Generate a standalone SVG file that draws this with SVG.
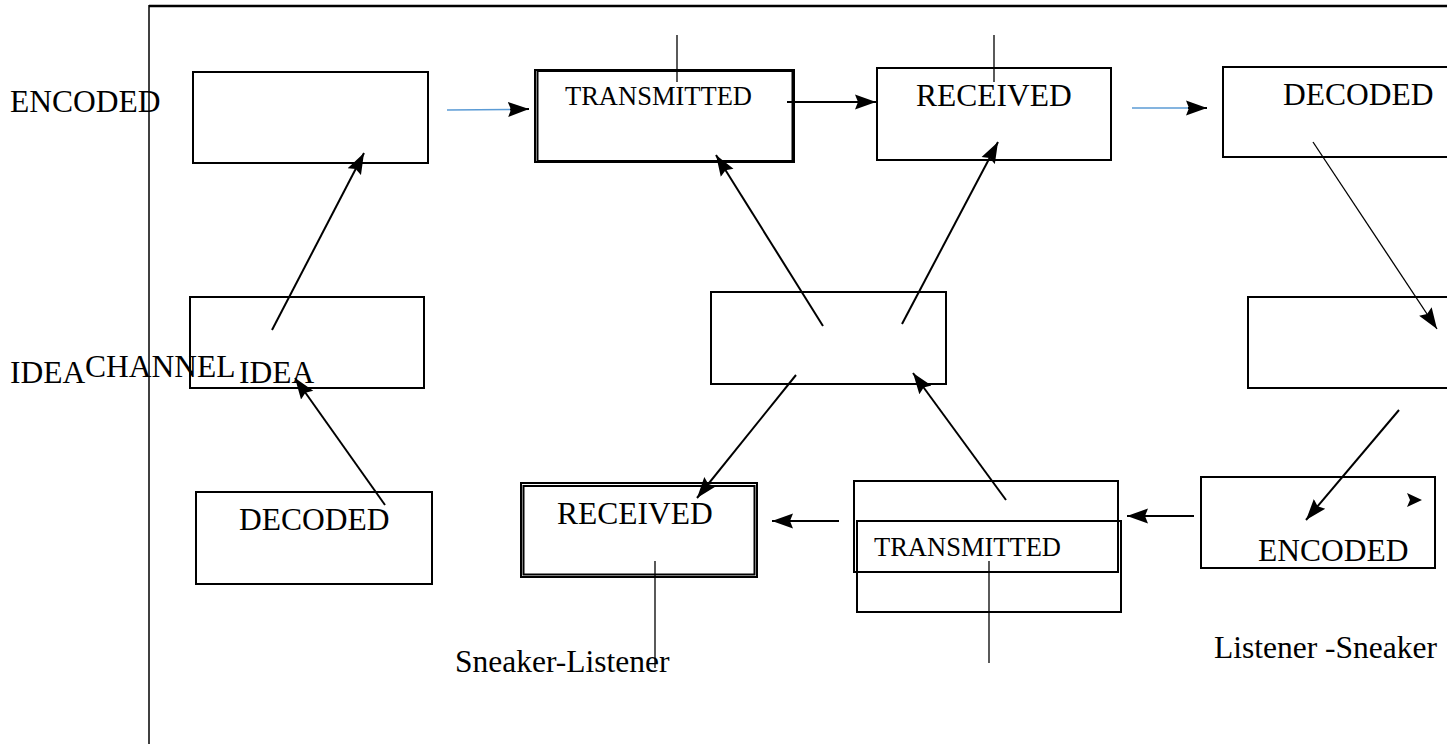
<svg xmlns="http://www.w3.org/2000/svg" width="1452" height="744" viewBox="0 0 1452 744">
  <style>
    .box { fill: none; stroke: #000; stroke-width: 2; }
    .lbl { font-family: "Liberation Serif", "Times New Roman", serif; font-size: 31.5px; fill: #000; }
    .sm { font-size: 26.5px; }
    .wire { stroke: #000; stroke-width: 2; fill: none; }
    .thin { stroke: #000; stroke-width: 1.3; fill: none; }
    .blue { stroke: #5b9bd5; stroke-width: 1.5; fill: none; }
  </style>
  <defs>
    <marker id="ah" markerUnits="userSpaceOnUse" markerWidth="24" markerHeight="18" refX="21" refY="9" orient="auto">
      <path d="M0,1.5 L21,9 L0,16.5 L3,9 z" fill="#000"/>
    </marker>
  </defs>

  <rect width="1452" height="744" fill="#fff"/>

  <!-- outer frame -->
  <g id="frame">
    <line x1="149" y1="6" x2="1447" y2="6" stroke="#000" stroke-width="2.5"/>
    <line x1="149" y1="5" x2="149" y2="744" stroke="#000" stroke-width="1.5"/>
  </g>

  <!-- side labels -->
  <g id="side-labels">
    <text class="lbl" x="10" y="112">ENCODED</text>
    <text class="lbl" x="10" y="383">IDEA</text>
    <text class="lbl" x="85" y="377">CHANNEL</text>
    <text class="lbl" x="239" y="383">IDEA</text>
    <text class="lbl" x="455" y="672">Sneaker-Listener</text>
    <text class="lbl" x="1214" y="658">Listener -Sneaker</text>
  </g>

  <!-- top row -->
  <g id="encoded-top">
    <rect class="box" x="193" y="72" width="235" height="91"/>
  </g>
  <g id="transmitted-top">
    <rect class="box" x="535" y="70" width="259" height="92" stroke-width="2.5"/>
    <rect class="box" x="537.5" y="71" width="255" height="90" stroke-width="1.2"/>
    <text class="lbl sm" x="565" y="105">TRANSMITTED</text>
  </g>
  <g id="received-top">
    <rect class="box" x="877" y="68" width="234" height="92"/>
    <text class="lbl" x="916" y="106">RECEIVED</text>
  </g>
  <g id="decoded-top">
    <path class="box" d="M1447,67 H1223 V157 H1447"/>
    <text class="lbl" x="1283" y="105">DECODED</text>
  </g>

  <!-- middle row -->
  <g id="idea-left">
    <rect class="box" x="190" y="297" width="234" height="91"/>
  </g>
  <g id="channel">
    <rect class="box" x="711" y="292" width="235" height="92"/>
  </g>
  <g id="idea-right">
    <path class="box" d="M1447,297 H1248 V388 H1447"/>
  </g>

  <!-- bottom row -->
  <g id="decoded-bottom">
    <rect class="box" x="196" y="492" width="236" height="92"/>
    <text class="lbl" x="239" y="530">DECODED</text>
  </g>
  <g id="received-bottom">
    <rect class="box" x="521" y="483" width="236" height="94" stroke-width="2.2"/>
    <rect class="box" x="523.5" y="486" width="231" height="88.5" stroke-width="1.2"/>
    <text class="lbl" x="557" y="524">RECEIVED</text>
  </g>
  <g id="transmitted-bottom">
    <rect class="box" x="854" y="481" width="264" height="91"/>
    <rect class="box" x="857" y="521" width="264" height="91"/>
    <text class="lbl sm" x="874" y="556">TRANSMITTED</text>
  </g>
  <g id="encoded-bottom">
    <rect class="box" x="1201" y="477" width="234" height="91"/>
    <text class="lbl" x="1258" y="561">ENCODED</text>
  </g>

  <!-- connectors -->
  <g id="connectors">
    <!-- horizontal flow, top -->
    <line class="blue" x1="447" y1="110" x2="513" y2="109.5"/>
    <line class="wire" x1="510" y1="109.5" x2="529" y2="109" marker-end="url(#ah)" stroke-width="1"/>
    <line class="wire" x1="787" y1="102" x2="876" y2="102" marker-end="url(#ah)"/>
    <line class="blue" x1="1132" y1="108" x2="1190" y2="108"/>
    <line class="wire" x1="1188" y1="108" x2="1207" y2="108" marker-end="url(#ah)" stroke-width="1"/>

    <!-- ticks above top boxes -->
    <line class="thin" x1="677" y1="35" x2="677" y2="82" stroke-width="1.5"/>
    <line class="thin" x1="994" y1="35" x2="994" y2="82" stroke-width="1.5"/>

    <!-- left column -->
    <line class="wire" x1="272" y1="330" x2="364" y2="153" marker-end="url(#ah)" stroke-width="1.5"/>
    <line class="wire" x1="385" y1="505" x2="295" y2="378" marker-end="url(#ah)" stroke-width="1.5"/>

    <!-- centre -->
    <line class="wire" x1="823" y1="326" x2="716" y2="155" marker-end="url(#ah)"/>
    <line class="wire" x1="902" y1="324" x2="998" y2="142" marker-end="url(#ah)"/>
    <line class="wire" x1="796" y1="375" x2="697" y2="498" marker-end="url(#ah)" stroke-width="1.5"/>
    <line class="wire" x1="1006" y1="500" x2="913" y2="373" marker-end="url(#ah)"/>

    <!-- right column -->
    <line class="thin" x1="1313" y1="142" x2="1437" y2="329" marker-end="url(#ah)"/>
    <line class="wire" x1="1399" y1="410" x2="1306" y2="520" marker-end="url(#ah)" stroke-width="2.5"/>
    <path d="M1407,493 L1422,500 L1407,507 L1410,500 z" fill="#000"/>

    <!-- horizontal flow, bottom -->
    <line class="wire" x1="1194" y1="516" x2="1127" y2="516" marker-end="url(#ah)"/>
    <line class="wire" x1="839" y1="521" x2="772" y2="521" marker-end="url(#ah)"/>

    <!-- ticks below bottom boxes -->
    <line class="thin" x1="655" y1="561" x2="655" y2="668" stroke-width="1.5"/>
    <line class="thin" x1="989" y1="561" x2="989" y2="663" stroke-width="1.5"/>
  </g>
</svg>
